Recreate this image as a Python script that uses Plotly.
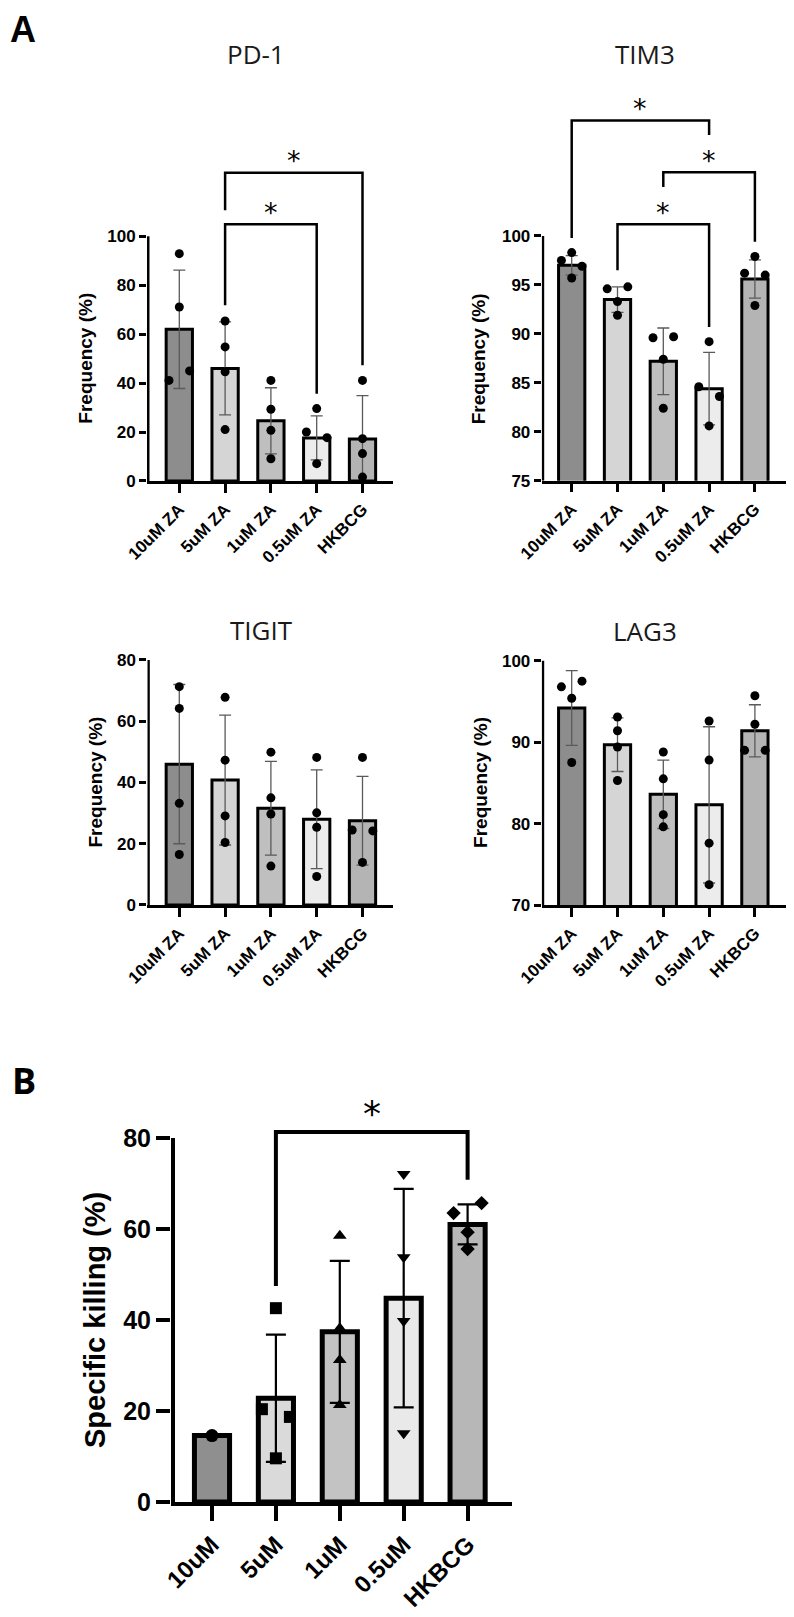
import plotly.graph_objects as go

# page body has an 8px margin, so the figure is drawn at (8, 8) in the window
PAGE_W, PAGE_H, OFF = 794, 1617, 8
FW, FH = PAGE_W - OFF, PAGE_H - OFF


def px_x(px):
    return min(1.0, max(0.0, (px - OFF) / FW))


def px_y(py):
    return min(1.0, max(0.0, 1 - (py - OFF) / FH))


# ------------------------------------------------------------------ data
cats_A = ["10uM ZA", "5uM ZA", "1uM ZA", "0.5uM ZA", "HKBCG"]
cats_B = ["10uM", "5uM", "1uM", "0.5uM", "HKBCG"]

pd1_mean = [62.0, 46.0, 24.6, 17.6, 17.2]
pd1_sd = [24.2, 19.0, 13.5, 9.0, 17.7]
pd1_pts = [[92.9, 71.1, 41.1, 45.0], [65.4, 54.8, 44.6, 21.0], [41.1, 29.3, 20.7, 9.1],
           [29.6, 20.0, 17.7, 7.1], [41.1, 17.3, 11.2, 1.6]]

tim3_mean = [97.0, 93.5, 87.2, 84.4, 95.6]
tim3_sd = [1.0, 1.3, 3.4, 3.7, 1.95]
tim3_pts = [[97.5, 98.3, 96.9, 95.7], [94.6, 94.8, 93.3, 91.9], [89.6, 89.7, 87.4, 82.4],
            [89.2, 84.6, 83.6, 80.6], [97.9, 96.2, 96.0, 92.9]]

tigit_mean = [46.0, 40.8, 31.6, 28.0, 27.5]
tigit_sd = [26.0, 21.2, 15.3, 16.1, 14.5]
tigit_pts = [[71.3, 64.2, 33.2, 16.5], [67.8, 47.3, 29.1, 20.4], [49.9, 35.0, 29.7, 12.7],
             [48.2, 30.1, 25.4, 9.3], [48.2, 24.5, 24.2, 13.9]]

lag3_mean = [94.2, 89.7, 83.6, 82.3, 91.4]
lag3_sd = [4.6, 3.3, 4.2, 9.6, 3.2]
lag3_pts = [[96.8, 97.5, 95.4, 87.5], [93.1, 91.4, 89.4, 85.3], [88.8, 85.5, 81.1, 79.6],
            [92.6, 87.8, 77.6, 72.5], [95.7, 92.2, 89.0, 89.0]]

kill_mean = [14.6, 22.8, 37.4, 44.8, 61.0]
kill_sd = [None, 14.0, 15.6, 24.0, 4.4]
kill_pts = [[14.6], [42.6, 20.4, 18.7, 9.6], [58.5, 38.2, 31.2, 21.3],
            [72.1, 53.8, 39.8, 15.1], [63.5, 65.7, 59.3, 55.6]]

ticks_pd1 = [0, 20, 40, 60, 80, 100]
ticks_tim3 = [75, 80, 85, 90, 95, 100]
ticks_tigit = [0, 20, 40, 60, 80]
ticks_lag3 = [70, 80, 90, 100]
ticks_kill = [0, 20, 40, 60, 80]

# significance brackets: (group a, group b, bracket level, left leg end, right leg end)
sig_pd1 = [(1, 3, 104.9, 71.8, 35.7), (1, 4, 126.0, 110.6, 47.3)]
sig_tim3 = [(0, 3, 111.8, 99.8, 110.3), (2, 4, 106.5, 105.0, 99.4), (1, 3, 101.2, 96.5, 90.7)]
sig_kill = [(1, 4, 81.3, 47.5, 70.8)]

# ------------------------------------------------------------------ styles
SANS = "Liberation Sans, Arial, sans-serif"
TITLEF = "Open Sans, sans-serif"
colors_A = ["#8d8d8d", "#d5d5d5", "#bfbfbf", "#ececec", "#b4b4b4"]
colors_B = ["#8f8f8f", "#dadada", "#c3c3c3", "#e9e9e9", "#b7b7b7"]

style_A = dict(bar_lw=3, bar_w=0.574, axis_lw=2.5, yticklen=7, xticklen=9, ytf=17, xtf=17,
               msize=[9] * 5, msym=["circle"] * 5, err_col="#5a5a5a", err_th=1.3, err_w=6,
               br_lw=2.5, ast=27, ast_shift=11.7, diam=10.3, colors=colors_A,
               ytitle="Frequency (%)", ytitle_size=19)
style_B = dict(bar_lw=5, bar_w=0.55, axis_lw=4, yticklen=14, xticklen=15, ytf=25, xtf=24,
               msize=[13, 12, 12, 12, 11], msym=["circle", "square", "triangle-up", "triangle-down", "diamond"],
               err_col="black", err_th=2.2, err_w=10, br_lw=4, ast=36, ast_shift=18.5,
               diam=14, colors=colors_B, ytitle="Specific killing (%)", ytitle_size=29)

# geometry (window pixels): axis left, axis right, first category centre, spacing, baseline, px/unit, range top
panels = [
    dict(name="PD-1", mean=pd1_mean, sd=pd1_sd, pts=pd1_pts, ticks=ticks_pd1, sig=sig_pd1, cats=cats_A,
         st=style_A, left=147, right=393, c0=179.3, step=45.8, base=481, ppu=2.447, top=132,
         title_xy=(256, 54), ytitle_x=86),
    dict(name="TIM3", mean=tim3_mean, sd=tim3_sd, pts=tim3_pts, ticks=ticks_tim3, sig=sig_tim3, cats=cats_A,
         st=style_A, left=541.7, right=786.7, c0=571.7, step=45.8, base=480.7, ppu=9.79, top=113,
         title_xy=(645, 54), ytitle_x=478),
    dict(name="TIGIT", mean=tigit_mean, sd=tigit_sd, pts=tigit_pts, ticks=ticks_tigit, sig=[], cats=cats_A,
         st=style_A, left=147.3, right=393.3, c0=179.3, step=45.8, base=905, ppu=3.0625, top=81,
         title_xy=(261, 630), ytitle_x=95),
    dict(name="LAG3", mean=lag3_mean, sd=lag3_sd, pts=lag3_pts, ticks=ticks_lag3, sig=[], cats=cats_A,
         st=style_A, left=541.7, right=786.7, c0=571.7, step=45.8, base=905, ppu=8.14, top=100.4,
         title_xy=(645, 631), ytitle_x=481),
    dict(name=None, mean=kill_mean, sd=kill_sd, pts=kill_pts, ticks=ticks_kill, sig=sig_kill, cats=cats_B,
         st=style_B, left=171, right=512, c0=212, step=63.9, base=1502, ppu=4.55, top=84,
         title_xy=None, ytitle_x=95),
]


def swarm(vals, ppu_y, diam_px, step_px):
    n = len(vals)
    offs = [0.0] * n
    order = sorted(range(n), key=lambda i: vals[i])
    groups, cur = [], [order[0]]
    for i in order[1:]:
        if abs(vals[i] - vals[cur[-1]]) * ppu_y < diam_px:
            cur.append(i)
        else:
            groups.append(cur)
            cur = [i]
    groups.append(cur)
    s = diam_px / step_px
    for g in groups:
        g = sorted(g)
        k = len(g)
        if k == 1:
            continue
        o = [-s, s] if k == 2 else [(j - (k - 1) / 2) * s for j in range(k)]
        for j, i in enumerate(g):
            offs[i] = o[j]
    return offs


fig = go.Figure()
layout = dict(template="none", width=FW, height=FH, margin=dict(l=0, r=0, t=0, b=0, pad=0),
              autosize=False, paper_bgcolor="white", plot_bgcolor="white", showlegend=False)
shapes, annotations = [], []

for k, p in enumerate(panels, start=1):
    st = p["st"]
    xs = "x" if k == 1 else f"x{k}"
    ys = "y" if k == 1 else f"y{k}"
    xk = "xaxis" if k == 1 else f"xaxis{k}"
    yk = "yaxis" if k == 1 else f"yaxis{k}"
    ymin = p["ticks"][0]
    r0 = (p["left"] - p["c0"]) / p["step"]
    r1 = (p["right"] - p["c0"]) / p["step"]
    top_px = p["base"] - (p["top"] - ymin) * p["ppu"]
    xpos = list(range(len(p["cats"])))

    fig.add_trace(go.Bar(
        x=xpos, y=p["mean"], width=st["bar_w"], xaxis=xs, yaxis=ys,
        marker=dict(color=st["colors"], line=dict(color="black", width=st["bar_lw"])),
        error_y=dict(type="data", array=p["sd"], color=st["err_col"], thickness=st["err_th"],
                     width=st["err_w"], visible=True),
    ))
    for i, vals in enumerate(p["pts"]):
        offs = swarm(vals, p["ppu"], st["diam"], p["step"])
        fig.add_trace(go.Scatter(
            x=[i + o for o in offs], y=vals, mode="markers", xaxis=xs, yaxis=ys,
            marker=dict(color="black", size=st["msize"][i], symbol=st["msym"][i],
                        line=dict(width=0)),
        ))

    layout[xk] = dict(domain=[px_x(p["left"]), px_x(p["right"])], range=[r0, r1], anchor=ys,
                      automargin=False,
                      showline=True, linecolor="black", linewidth=st["axis_lw"],
                      tickmode="array", tickvals=xpos, ticktext=p["cats"], tickangle=-45,
                      ticks="outside", ticklen=st["xticklen"], tickwidth=st["axis_lw"], tickcolor="black",
                      tickfont=dict(family=SANS, size=st["xtf"], color="black", weight="bold"),
                      showgrid=False, zeroline=False, fixedrange=True)
    layout[yk] = dict(domain=[px_y(p["base"]), px_y(top_px)], range=[ymin, p["top"]], anchor=xs,
                      automargin=False, showline=False, tickmode="array", tickvals=p["ticks"],
                      ticks="outside", ticklen=st["yticklen"], tickwidth=st["axis_lw"], tickcolor="black",
                      tickfont=dict(family=SANS, size=st["ytf"], color="black", weight="bold"),
                      showgrid=False, zeroline=False, fixedrange=True)

    # y axis line limited to the tick span
    xline = r0 + (st["axis_lw"] / 2) / p["step"]
    shapes.append(dict(type="line", xref=xs, yref=ys, x0=xline, x1=xline, y0=ymin, y1=p["ticks"][-1],
                       line=dict(color="black", width=st["axis_lw"])))

    # axis title
    annotations.append(dict(text=st["ytitle"], xref="paper", yref=ys, x=px_x(p["ytitle_x"]),
                            y=(p["ticks"][0] + p["ticks"][-1]) / 2, textangle=-90, showarrow=False,
                            xanchor="center", yanchor="middle",
                            font=dict(family=SANS, size=st["ytitle_size"], color="black", weight="bold")))
    if p["name"]:
        tx, ty = p["title_xy"]
        annotations.append(dict(text=p["name"], xref="paper", yref="paper", x=px_x(tx), y=px_y(ty),
                                showarrow=False, xanchor="center", yanchor="middle",
                                font=dict(family=TITLEF, size=26, color="#1a1a1a")))

    for (a, b, lvl, la, lb) in p["sig"]:
        shapes.append(dict(type="path", xref=xs, yref=ys,
                           path=f"M {a},{la} L {a},{lvl} L {b},{lvl} L {b},{lb}",
                           line=dict(color="black", width=st["br_lw"]), fillcolor="rgba(0,0,0,0)"))
        annotations.append(dict(text="*", xref=xs, yref=ys, x=(a + b) / 2, y=lvl, yshift=st["ast_shift"],
                                showarrow=False, xanchor="center", yanchor="middle",
                                font=dict(family="DejaVu Sans", size=st["ast"], color="black")))

annotations.append(dict(text="A", xref="paper", yref="paper", x=px_x(8.5), y=1.0, showarrow=False,
                        xanchor="left", yanchor="top", borderpad=0,
                        font=dict(family=SANS, size=36, color="black", weight="bold")))
annotations.append(dict(text="B", xref="paper", yref="paper", x=px_x(10), y=px_y(1080), showarrow=False,
                        xanchor="left", yanchor="middle",
                        font=dict(family=TITLEF, size=36, color="black", weight="bold")))

layout["shapes"] = shapes
layout["annotations"] = annotations
fig.update_layout(**layout)
fig.write_html("out.html")
